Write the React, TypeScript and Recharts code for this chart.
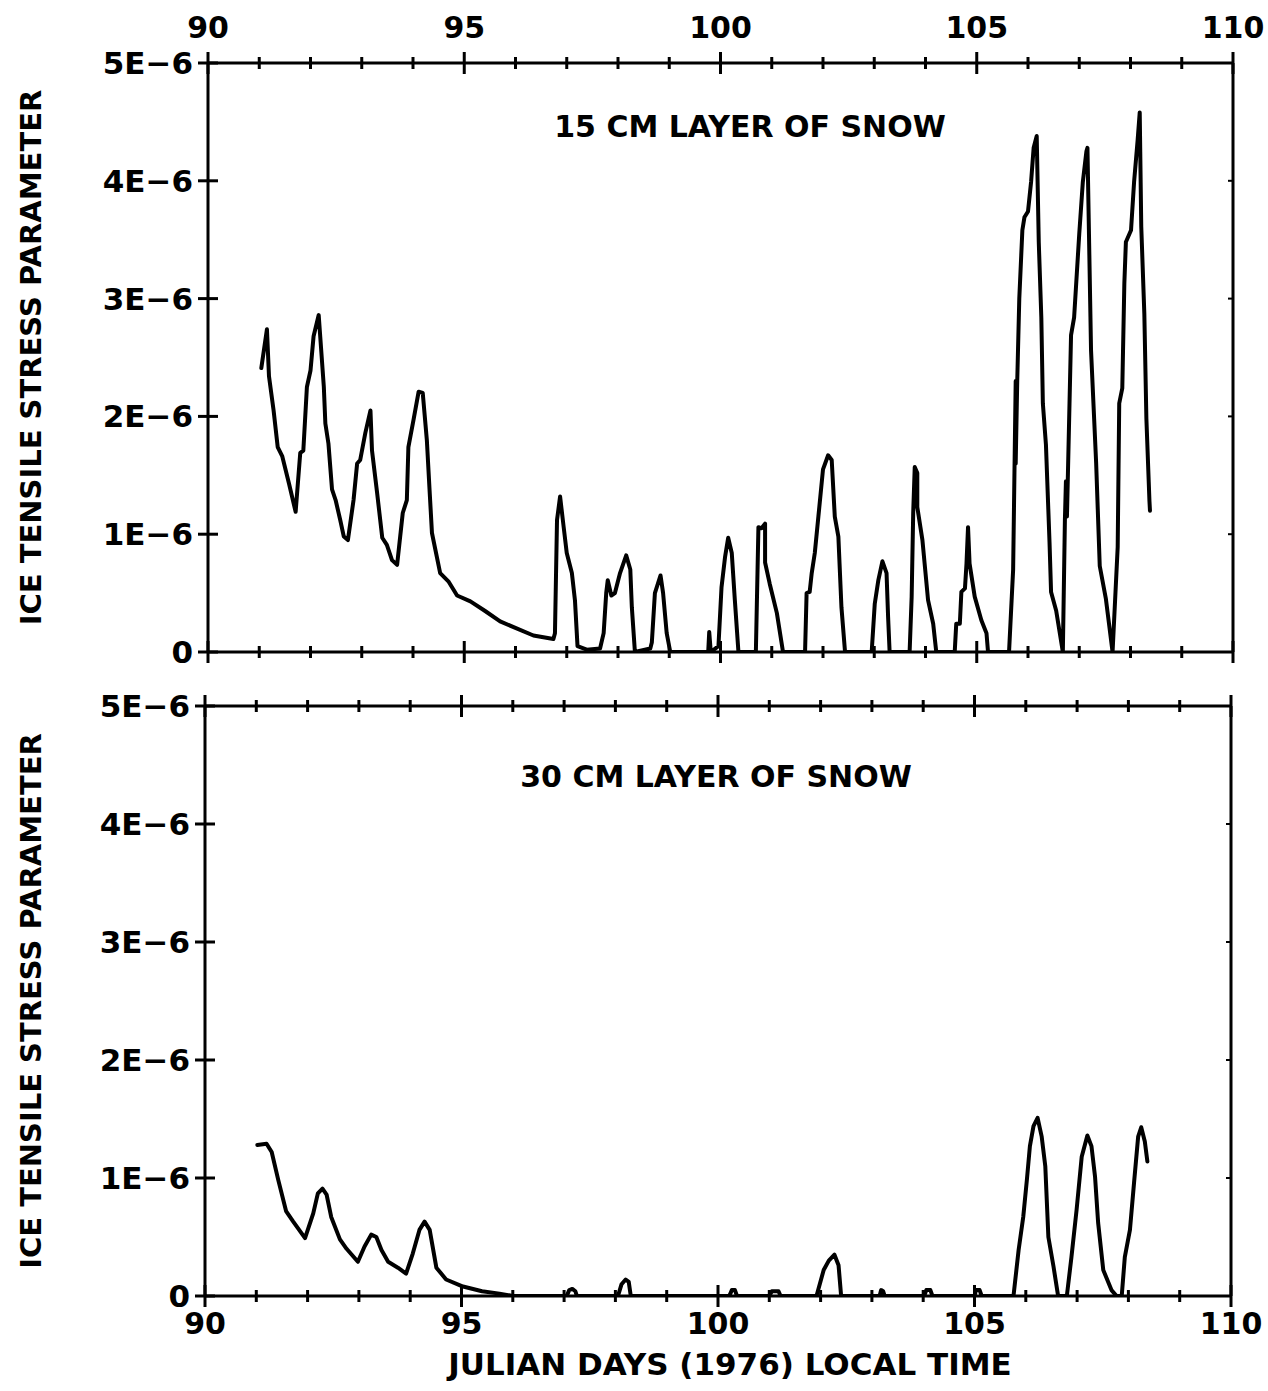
import { LineChart, Line, XAxis, YAxis } from 'recharts';

// julian day ticks and stress ticks (units of 1E-6)
const xTicks = [90, 91, 92, 93, 94, 95, 96, 97, 98, 99, 100, 101, 102, 103, 104, 105, 106, 107, 108, 109, 110];
const yTicks = [0, 1, 2, 3, 4, 5];

// 15 cm layer of snow
const snow15Days = [
  91.04, 91.15, 91.19, 91.28, 91.36, 91.45, 91.58, 91.71, 91.8, 91.86, 91.93, 92.0, 92.06, 92.16, 92.26, 92.29,
  92.35, 92.42, 92.49, 92.58, 92.65, 92.73, 92.84, 92.91, 92.97, 93.07, 93.17, 93.2, 93.3, 93.4, 93.49, 93.59,
  93.69, 93.75, 93.8, 93.88, 93.91, 94.01, 94.11, 94.19, 94.27, 94.32, 94.37, 94.53, 94.69, 94.86, 95.12, 95.4,
  95.7, 96.35, 96.74, 96.77, 96.81, 96.87, 96.94, 97.0, 97.1, 97.16, 97.21, 97.39, 97.65, 97.72, 97.77, 97.8,
  97.87, 97.94, 98.04, 98.16, 98.24, 98.27, 98.33, 98.63, 98.66, 98.72, 98.83, 98.88, 98.95, 99.02, 99.76, 99.78,
  99.81, 99.96, 100.02, 100.09, 100.15, 100.22, 100.28, 100.35, 100.69, 100.74, 100.8, 100.87, 100.87, 100.96, 101.1, 101.22,
  101.65, 101.68, 101.74, 101.78, 101.84, 101.91, 102.0, 102.1, 102.17, 102.23, 102.3, 102.36, 102.43, 102.95, 103.01, 103.08,
  103.16, 103.24, 103.27, 103.3, 103.69, 103.73, 103.76, 103.79, 103.84, 103.84, 103.94, 104.05, 104.15, 104.21, 104.57, 104.6,
  104.67, 104.7, 104.77, 104.8, 104.83, 104.86, 104.96, 105.09, 105.19, 105.22, 105.63, 105.71, 105.74, 105.76, 105.76, 105.79,
  105.83, 105.89, 105.93, 106.0, 106.06, 106.11, 106.17, 106.21, 106.26, 106.29, 106.35, 106.42, 106.45, 106.55, 106.68, 106.72,
  106.74, 106.76, 106.84, 106.9, 107.0, 107.07, 107.14, 107.16, 107.23, 107.33, 107.4, 107.52, 107.65, 107.75, 107.78, 107.84,
  107.88, 107.91, 108.01, 108.07, 108.14, 108.18, 108.21, 108.27, 108.31, 108.37, 108.38,
];
const snow15Stress = [
  2.41, 2.74, 2.34, 2.05, 1.74, 1.66, 1.43, 1.19, 1.69, 1.71, 2.25, 2.39, 2.68, 2.86, 2.25, 1.94,
  1.77, 1.38, 1.29, 1.12, 0.98, 0.95, 1.29, 1.6, 1.63, 1.86, 2.05, 1.71, 1.35, 0.97, 0.91, 0.78,
  0.74, 0.98, 1.18, 1.29, 1.74, 1.97, 2.21, 2.2, 1.8, 1.4, 1.01, 0.67, 0.6, 0.48, 0.43, 0.35,
  0.26, 0.14, 0.11, 0.16, 1.12, 1.32, 1.06, 0.84, 0.67, 0.44, 0.05, 0.02, 0.03, 0.16, 0.5, 0.61,
  0.48, 0.5, 0.67, 0.82, 0.7, 0.38, 0, 0.03, 0.08, 0.5, 0.65, 0.5, 0.16, 0, 0, 0.17,
  0, 0.05, 0.55, 0.81, 0.97, 0.84, 0.44, 0, 0, 1.06, 1.05, 1.09, 0.76, 0.58, 0.33, 0,
  0, 0.5, 0.51, 0.67, 0.84, 1.15, 1.55, 1.67, 1.63, 1.15, 0.98, 0.38, 0, 0, 0.41, 0.61,
  0.77, 0.67, 0.3, 0, 0, 0.47, 1.18, 1.57, 1.52, 1.23, 0.95, 0.44, 0.24, 0, 0, 0.24,
  0.24, 0.51, 0.54, 0.75, 1.06, 0.75, 0.47, 0.27, 0.16, 0, 0, 0.7, 1.66, 2.3, 1.6, 2.3,
  3.0, 3.58, 3.69, 3.74, 3.99, 4.28, 4.38, 3.48, 2.84, 2.11, 1.76, 0.93, 0.51, 0.35, 0, 1.12,
  1.45, 1.15, 2.69, 2.84, 3.55, 3.99, 4.25, 4.28, 2.56, 1.6, 0.73, 0.45, 0, 0.89, 2.11, 2.24,
  3.13, 3.48, 3.58, 3.99, 4.35, 4.58, 3.61, 2.87, 1.98, 1.28, 1.2,
];

// 30 cm layer of snow
const snow30Days = [
  91.02, 91.2, 91.3, 91.43, 91.58, 91.72, 91.95, 92.11, 92.2, 92.29, 92.37, 92.46, 92.63, 92.76, 92.98, 93.11,
  93.24, 93.34, 93.44, 93.57, 93.76, 93.92, 94.05, 94.18, 94.28, 94.38, 94.51, 94.7, 95.03, 95.4, 95.74, 96.0,
  97.05, 97.1, 97.16, 97.22, 97.25, 98.05, 98.12, 98.2, 98.26, 98.3, 100.22, 100.27, 100.33, 100.37, 101.0, 101.05,
  101.18, 101.22, 101.92, 102.06, 102.16, 102.27, 102.35, 102.4, 103.15, 103.18, 103.22, 103.25, 104.02, 104.06, 104.14, 104.18,
  105.0, 105.03, 105.1, 105.14, 105.76, 105.86, 105.95, 106.02, 106.08, 106.15, 106.23, 106.31, 106.38, 106.44, 106.54, 106.63,
  106.8, 106.89, 106.99, 107.09, 107.2, 107.28, 107.35, 107.41, 107.51, 107.67, 107.77, 107.87, 107.93, 108.03, 108.11, 108.19,
  108.25, 108.32, 108.37,
];
const snow30Stress = [
  1.28, 1.29, 1.22, 0.98, 0.72, 0.63, 0.49, 0.7, 0.87, 0.91, 0.86, 0.67, 0.48, 0.4, 0.29, 0.42,
  0.52, 0.5, 0.39, 0.29, 0.24, 0.19, 0.36, 0.56, 0.63, 0.56, 0.24, 0.14, 0.08, 0.04, 0.02, 0,
  0, 0.05, 0.06, 0.04, 0, 0, 0.1, 0.14, 0.12, 0, 0, 0.05, 0.05, 0, 0, 0.04,
  0.04, 0, 0, 0.22, 0.3, 0.35, 0.26, 0, 0, 0.05, 0.04, 0, 0, 0.05, 0.05, 0,
  0, 0.05, 0.05, 0, 0, 0.39, 0.67, 0.98, 1.27, 1.44, 1.51, 1.35, 1.1, 0.5, 0.25, 0,
  0, 0.33, 0.73, 1.18, 1.36, 1.27, 1.01, 0.62, 0.22, 0.05, 0, 0, 0.33, 0.56, 0.96, 1.35,
  1.43, 1.31, 1.14,
];

const snow15 = snow15Days.map((day, i) => ({ day, stress: snow15Stress[i] }));
const snow30 = snow30Days.map((day, i) => ({ day, stress: snow30Stress[i] }));

const FONT = '"DejaVu Sans", Verdana, sans-serif';
const W = 1268;
const axisStyle = { stroke: '#000', strokeWidth: 3 };
const textStyle = { fontFamily: FONT, fontWeight: 'bold' as const, fill: '#000' };

const xTick = (dir: number, showLabel: boolean) => (props: any) => {
  const { x, y, payload } = props;
  const major = payload.value % 5 === 0;
  const len = major ? 11 : 6;
  return (
    <g>
      <line x1={x} x2={x} y1={y - len} y2={y + len} stroke="#000" strokeWidth={3} />
      {showLabel && major && (
        <text x={x} y={dir < 0 ? y - 25 : y + 38} textAnchor="middle" fontSize={30} {...textStyle}>
          {payload.value}
        </text>
      )}
    </g>
  );
};

const leftTick = (props: any) => {
  const { x, y, payload } = props;
  const label = payload.value === 0 ? '0' : `${payload.value}E\u22126`;
  return (
    <g>
      <line x1={x - 10} x2={x + 10} y1={y} y2={y} stroke="#000" strokeWidth={3} />
      <text x={x - 15} y={y + 11} textAnchor="end" fontSize={31} {...textStyle}>
        {label}
      </text>
    </g>
  );
};

const rightTick = (props: any) => {
  const { x, y } = props;
  return <line x1={x - 5} x2={x} y1={y} y2={y} stroke="#000" strokeWidth={2} />;
};

interface PanelProps {
  data: { day: number; stress: number }[];
  height: number;
  plotLeft: number;
  plotRight: number;
  plotTop: number;
  plotBottom: number;
  labelsOnTop: boolean;
  title: string;
  titleX: number;
  titleY: number;
  xTitle?: string;
}

function Panel(p: PanelProps) {
  const midY = (p.plotTop + p.plotBottom) / 2;
  return (
    <LineChart width={W} height={p.height} margin={{ top: 0, right: 0, bottom: 0, left: 0 }}>
      <XAxis
        xAxisId="top"
        orientation="top"
        type="number"
        dataKey="day"
        domain={[90, 110]}
        ticks={xTicks}
        interval={0}
        allowDataOverflow
        height={p.plotTop}
        tickSize={0}
        tickMargin={0}
        tickLine={false}
        axisLine={axisStyle}
        tick={xTick(-1, p.labelsOnTop)}
        label={() => (
          <text x={p.titleX} y={p.titleY} textAnchor="middle" fontSize={30} {...textStyle}>
            {p.title}
          </text>
        )}
      />
      <XAxis
        xAxisId="bottom"
        orientation="bottom"
        type="number"
        dataKey="day"
        domain={[90, 110]}
        ticks={xTicks}
        interval={0}
        allowDataOverflow
        height={p.height - p.plotBottom}
        tickSize={0}
        tickMargin={0}
        tickLine={false}
        axisLine={axisStyle}
        tick={xTick(1, !p.labelsOnTop)}
        label={() =>
          p.xTitle ? (
            <text x={730} y={p.plotBottom + 79} textAnchor="middle" fontSize={31} {...textStyle}>
              {p.xTitle}
            </text>
          ) : null
        }
      />
      <YAxis
        yAxisId="left"
        orientation="left"
        type="number"
        domain={[0, 5]}
        ticks={yTicks}
        interval={0}
        allowDataOverflow
        width={p.plotLeft}
        tickSize={0}
        tickMargin={0}
        tickLine={false}
        axisLine={axisStyle}
        tick={leftTick}
        label={() => (
          <text
            x={41}
            y={midY}
            transform={`rotate(-90, 41, ${midY})`}
            textAnchor="middle"
            fontSize={29}
            {...textStyle}
          >
            ICE TENSILE STRESS PARAMETER
          </text>
        )}
      />
      <YAxis
        yAxisId="right"
        orientation="right"
        type="number"
        domain={[0, 5]}
        ticks={yTicks}
        interval={0}
        allowDataOverflow
        width={W - p.plotRight}
        tickSize={0}
        tickMargin={0}
        tickLine={false}
        axisLine={axisStyle}
        tick={rightTick}
      />
      <Line
        xAxisId="bottom"
        yAxisId="left"
        data={p.data}
        dataKey="stress"
        type="linear"
        stroke="#000"
        strokeWidth={4}
        strokeLinejoin="round"
        strokeLinecap="round"
        dot={false}
        activeDot={false}
        isAnimationActive={false}
      />
    </LineChart>
  );
}

export default function App() {
  return (
    <div style={{ position: 'absolute', left: 0, top: 0, width: W, height: 1391, background: '#fff' }}>
      <div style={{ position: 'absolute', left: 0, top: 0 }}>
        <Panel
          data={snow15}
          height={680}
          plotLeft={208}
          plotRight={1233}
          plotTop={63}
          plotBottom={652}
          labelsOnTop
          title="15 CM LAYER OF SNOW"
          titleX={750}
          titleY={137}
        />
      </div>
      <div style={{ position: 'absolute', left: 0, top: 680 }}>
        <Panel
          data={snow30}
          height={711}
          plotLeft={205}
          plotRight={1231}
          plotTop={26}
          plotBottom={616}
          labelsOnTop={false}
          title="30 CM LAYER OF SNOW"
          titleX={716}
          titleY={107}
          xTitle="JULIAN DAYS (1976) LOCAL TIME"
        />
      </div>
    </div>
  );
}
